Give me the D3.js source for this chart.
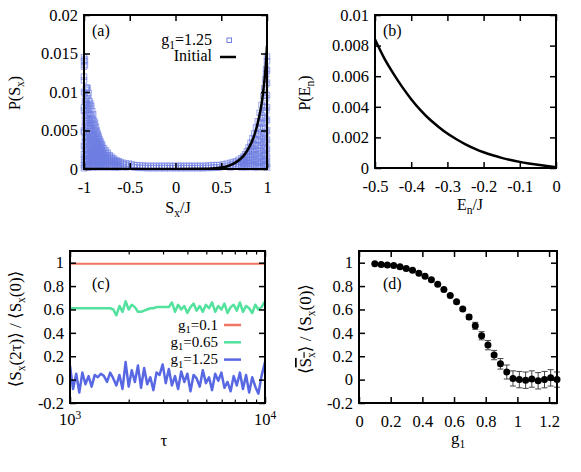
<!DOCTYPE html>
<html><head><meta charset="utf-8">
<script src="https://cdn.jsdelivr.net/npm/d3@7"></script>
<style>
body{margin:0;background:#fff}
svg text{font-family:"Liberation Serif","Times New Roman","DejaVu Serif",serif;fill:#000}
</style>
</head><body>
<svg id="chart" width="581" height="472"></svg>
<script>
// ---------------- DATA ----------------
// (a) open squares: [S_x/J, [P values in units of 1e-3]]
const aSquares = [
 [-1.00,[14.5,14.0,13.3,12.0,11.5,10.0,8.0,7.6,5.0,4.8,3.0,1.9,1.2,0.5,0.1]],
 [-0.99,[14.2,13.5,9.8,8.8,7.0,6.2,5.4,4.1,3.5,2.6,1.6,0.9,0.3]],
 [-0.98,[10.4,9.0,8.6,7.5,6.0,4.7,3.9,2.8,2.0,1.3,0.6]],
 [-0.97,[10.6,10.2,9.2,8.3,6.6,5.7,4.4,3.3,2.4,1.7,1.0,0.4]],
 [-0.96,[10.5,9.5,8.4,7.8,7.0,5.2,4.2,3.6,2.5,1.8,1.1,0.5]],
 [-0.95,[9.9,9.0,8.1,7.2,6.3,5.6,4.6,3.7,2.9,2.1,1.4,0.7,0.2]],
 [-0.94,[8.8,8.3,7.3,6.5,5.9,4.9,4.0,3.3,2.6,1.9,1.2,0.6]],
 [-0.93,[8.5,7.9,7.0,6.1,5.4,4.5,3.8,3.0,2.3,1.6,1.0,0.4]],
 [-0.92,[8.2,7.0,6.4,5.6,4.9,4.2,3.5,2.8,2.1,1.5,0.9,0.3]],
 [-0.91,[7.5,6.6,6.0,5.2,4.6,3.9,3.2,2.5,1.9,1.3,0.7]],
 [-0.90,[7.1,6.4,5.7,5.0,4.3,3.6,3.0,2.4,1.8,1.2,0.6,0.2]],
 [-0.89,[6.2,5.8,5.1,4.5,3.9,3.3,2.7,2.1,1.6,1.0,0.5]],
 [-0.88,[6.0,5.3,4.8,4.1,3.6,3.0,2.5,1.9,1.4,0.9,0.4]],
 [-0.87,[5.5,4.9,4.3,3.8,3.2,2.7,2.2,1.7,1.2,0.8,0.3]],
 [-0.86,[5.0,4.5,4.0,3.4,2.9,2.4,1.9,1.5,1.0,0.6]],
 [-0.85,[4.6,4.1,3.6,3.1,2.7,2.2,1.8,1.3,0.9,0.5,0.2]],
 [-0.84,[4.3,3.8,3.3,2.9,2.5,2.0,1.6,1.2,0.8,0.4]],
 [-0.83,[3.9,3.5,3.0,2.6,2.2,1.8,1.4,1.0,0.6,0.3]],
 [-0.82,[3.6,3.2,2.8,2.4,2.0,1.7,1.3,0.9,0.5]],
 [-0.81,[3.3,2.9,2.5,2.2,1.8,1.5,1.1,0.8,0.4]],
 [-0.80,[3.1,2.7,2.3,2.0,1.7,1.3,1.0,0.7,0.3]],
 [-0.78,[2.7,2.4,2.0,1.7,1.4,1.1,0.8,0.5,0.2]],
 [-0.76,[2.4,2.1,1.8,1.5,1.2,0.9,0.6,0.3]],
 [-0.74,[2.1,1.8,1.5,1.3,1.0,0.7,0.4]],
 [-0.72,[1.8,1.6,1.3,1.1,0.8,0.5,0.2]],
 [-0.70,[1.6,1.4,1.1,0.9,0.6,0.3]],
 [-0.68,[1.4,1.2,1.0,0.7,0.4]],
 [-0.66,[1.2,1.0,0.8,0.5,0.2]],
 [-0.64,[1.1,0.9,0.6,0.3]],
 [-0.62,[1.0,0.8,0.5,0.2]],
 [-0.60,[0.9,0.7,0.4]],
 [-0.57,[0.8,0.6,0.3]],
 [-0.54,[0.7,0.5,0.2]],
 [-0.51,[0.7,0.4]],
 [-0.48,[0.6,0.3]],
 [-0.45,[0.5,0.2]],[-0.42,[0.5,0.2]],[-0.39,[0.45,0.15]],[-0.36,[0.45,0.15]],
 [-0.33,[0.4,0.15]],[-0.30,[0.4,0.1]],[-0.27,[0.4,0.15]],[-0.24,[0.4,0.1]],
 [-0.21,[0.4,0.15]],[-0.18,[0.4,0.1]],[-0.15,[0.4,0.15]],[-0.12,[0.4,0.1]],
 [-0.09,[0.4,0.15]],[-0.06,[0.4,0.1]],[-0.03,[0.4,0.15]],[0.00,[0.4,0.1]],
 [0.03,[0.4,0.15]],[0.06,[0.4,0.1]],[0.09,[0.4,0.15]],[0.12,[0.4,0.1]],
 [0.15,[0.4,0.15]],[0.18,[0.4,0.1]],[0.21,[0.4,0.15]],[0.24,[0.4,0.1]],
 [0.27,[0.4,0.15]],[0.30,[0.4,0.1]],[0.33,[0.4,0.15]],[0.36,[0.45,0.15]],
 [0.39,[0.45,0.15]],[0.42,[0.5,0.2]],[0.45,[0.5,0.2]],
 [0.48,[0.5,0.2]],
 [0.52,[0.6,0.3]],
 [0.56,[0.7,0.4]],
 [0.60,[0.8,0.5,0.2]],
 [0.63,[0.9,0.6,0.3]],
 [0.66,[1.0,0.7,0.4]],
 [0.69,[1.2,0.9,0.6,0.3]],
 [0.72,[1.4,1.1,0.8,0.5,0.2]],
 [0.74,[1.6,1.3,1.0,0.7,0.4]],
 [0.76,[1.9,1.6,1.2,0.9,0.6,0.3]],
 [0.78,[2.3,1.9,1.5,1.1,0.8,0.5,0.2]],
 [0.80,[2.8,2.4,1.9,1.5,1.1,0.7,0.4]],
 [0.82,[3.4,2.9,2.4,1.9,1.5,1.1,0.7,0.3]],
 [0.84,[4.0,3.4,2.9,2.3,1.8,1.3,0.9,0.5]],
 [0.86,[4.6,3.9,3.2,2.6,2.1,1.6,1.1,0.6,0.2]],
 [0.88,[5.4,4.6,3.8,3.1,2.5,1.9,1.3,0.8,0.4]],
 [0.90,[6.2,5.3,4.5,3.7,3.0,2.3,1.7,1.1,0.6,0.2]],
 [0.92,[7.3,6.1,5.2,4.3,3.5,2.7,2.0,1.4,0.8,0.3]],
 [0.94,[8.3,7.0,5.9,4.8,3.9,3.1,2.3,1.6,0.9,0.4]],
 [0.96,[9.5,8.0,6.6,5.4,4.4,3.4,2.5,1.7,1.0,0.5]],
 [0.97,[10.5,8.8,7.3,6.0,4.6,3.6,2.7,1.8,1.1,0.4]],
 [0.98,[11.6,10.0,8.2,6.7,5.2,4.0,2.9,2.0,1.2,0.6]],
 [0.99,[13.0,12.3,11.0,9.2,7.6,6.2,4.8,3.5,2.4,1.4,0.6]],
 [1.00,[14.6,14.0,12.8,11.2,9.6,8.0,6.4,5.0,3.8,2.6,1.6,0.7,0.2]]
];
// (a) initial distribution curve
const aInitX = [-1,-0.5,0,0.3,0.4,0.5,0.55,0.6,0.65,0.7,0.75,0.8,0.85,0.88,0.9,0.92,0.94,0.96,0.98,0.99,1.0];
const aInitY = [0,0,0.00001,0.00003,0.00008,0.0002,0.0003,0.0005,0.0008,0.0012,0.0018,0.0027,0.0040,0.0051,0.0060,0.0071,0.0084,0.0102,0.0125,0.0140,0.0160];
// (b) P(E_n)
const bX = [-0.5,-0.475,-0.45,-0.425,-0.4,-0.375,-0.35,-0.325,-0.3,-0.275,-0.25,-0.225,-0.2,-0.175,-0.15,-0.125,-0.1,-0.075,-0.05,-0.025,0];
const bY = [0.0084,0.0072,0.0062,0.0053,0.0045,0.0038,0.0032,0.0027,0.00225,0.00188,0.00155,0.00127,0.00103,0.00083,0.00066,0.00052,0.0004,0.0003,0.00021,0.00013,0.00006];
// (c) time series
const cTau = [1000,1037,1076,1116,1157,1200,1245,1291,1339,1389,1440,1494,1549,1607,1667,1729,1793,1859,1928,2000,2074,2151,2231,2314,2400,2489,2582,2677,2777,2880,2987,3098,3213,3332,3456,3584,3718,3856,3999,4147,4302,4461,4627,4799,4977,5162,5354,5553,5759,5973,6194,6424,6663,6911,7167,7434,7710,7996,8293,8601,8920,9252,9595,10000];
const cRed = [0.99,0.992,0.99,0.991,0.99,0.992,0.99,0.991,0.99,0.992,0.99,0.991,0.99,0.992,0.99,0.991,0.99,0.992,0.99,0.991,0.99,0.992,0.99,0.991,0.99,0.992,0.99,0.991,0.99,0.992,0.99,0.991,0.99,0.992,0.99,0.991,0.99,0.992,0.99,0.991,0.99,0.992,0.99,0.991,0.99,0.992,0.99,0.991,0.99,0.992,0.99,0.991,0.99,0.992,0.99,0.991,0.99,0.992,0.99,0.991,0.99,0.992,0.99,0.991];
const cGreen = [0.61,0.61,0.61,0.61,0.61,0.61,0.61,0.61,0.61,0.61,0.61,0.61,0.61,0.61,
 0.60,0.55,0.63,0.58,0.67,0.60,0.64,0.62,0.58,
 0.58,0.59,0.60,0.61,0.61,0.62,0.62,0.62,0.62,0.62,
 0.66,0.58,0.64,0.60,0.63,0.57,0.62,0.65,0.59,0.63,
 0.58,0.64,0.61,0.66,0.58,0.63,0.60,0.65,0.57,0.62,
 0.64,0.59,0.66,0.58,0.63,0.61,0.57,0.64,0.60,0.62,0.67];
const cBlue = [0.12,-0.08,0.05,-0.11,0.06,-0.04,0.03,-0.06,0.04,0.02,0.05,0.03,-0.02,0.06,0.01,-0.05,0.04,-0.08,0.15,-0.06,0.08,-0.02,0.12,-0.07,0.10,-0.04,0.02,-0.09,0.06,0.04,0.13,-0.03,0.09,-0.05,0.03,-0.08,0.07,-0.02,0.05,-0.10,0.04,0.01,-0.06,0.08,-0.03,0.02,-0.09,0.05,-0.01,0.06,-0.07,-0.02,-0.10,0.03,-0.05,0.06,-0.08,0.04,-0.11,0.02,-0.06,-0.12,0.03,0.15];
const cSeries = ["0.1","0.65","1.25"];
// (d) time-averaged magnetisation
const dG = [0.100,0.140,0.179,0.219,0.259,0.298,0.338,0.378,0.417,0.457,0.497,0.536,0.576,0.616,0.655,0.695,0.734,0.774,0.814,0.853,0.893,0.933,0.972,1.012,1.052,1.091,1.131,1.171,1.210,1.250];
const dY = [0.99,0.985,0.98,0.975,0.965,0.95,0.935,0.91,0.885,0.855,0.815,0.77,0.72,0.665,0.605,0.535,0.46,0.375,0.295,0.21,0.135,0.065,0.01,0.0,-0.005,0.005,-0.01,0.0,0.015,0.0];
const dErr = [0.005,0.005,0.005,0.005,0.005,0.005,0.005,0.005,0.005,0.005,0.005,0.005,0.008,0.01,0.012,0.02,0.03,0.035,0.04,0.04,0.045,0.06,0.065,0.07,0.07,0.07,0.07,0.07,0.07,0.065];
// tick values / labels
const aXTicks = [-1,-0.5,0,0.5,1], aXLabels = ["-1","-0.5","0","0.5","1"];
const aYTicks = [0,0.005,0.01,0.015,0.02], aYLabels = ["0","0.005","0.01","0.015","0.02"];
const bXTicks = [-0.5,-0.4,-0.3,-0.2,-0.1,0], bXLabels = ["-0.5","-0.4","-0.3","-0.2","-0.1","0"];
const bYTicks = [0,0.002,0.004,0.006,0.008,0.01], bYLabels = ["0","0.002","0.004","0.006","0.008","0.01"];
const cXMajor = [1000,10000], cXMinor = [2000,3000,4000,5000,6000,7000,8000,9000], cXExp = ["3","4"];
const cdYTicks = [-0.2,0,0.2,0.4,0.6,0.8,1], cdYLabels = ["-0.2","0","0.2","0.4","0.6","0.8","1"];
const dXTicks = [0,0.2,0.4,0.6,0.8,1,1.2], dXLabels = ["0","0.2","0.4","0.6","0.8","1","1.2"];

// ---------------- DRAW ----------------
const svg = d3.select("#chart");
const FONT = "Liberation Serif, Times New Roman, serif";
const FS = 16, TFS = 16.5, SFS = 11.5;
const colRed = "#ef7462", colGreen = "#52e29e", colBlue = "#5868e2", colSq = "#6e7ee2";

function axes(g, x, y, box, xt, xl, yt, yl){
  const {l,r,t,b} = box;
  const bottom = g.append("g").attr("transform",`translate(0,${b})`)
    .call(d3.axisBottom(x).tickValues(xt).tickFormat((d,i)=>xl?xl[i]:"").tickSize(-6).tickSizeOuter(0).tickPadding(12));
  const top = g.append("g").attr("transform",`translate(0,${t})`)
    .call(d3.axisTop(x).tickValues(xt).tickFormat("").tickSize(-6).tickSizeOuter(0));
  const left = g.append("g").attr("transform",`translate(${l},0)`)
    .call(d3.axisLeft(y).tickValues(yt).tickFormat((d,i)=>yl[i]).tickSize(-6).tickSizeOuter(0).tickPadding(6));
  const right = g.append("g").attr("transform",`translate(${r},0)`)
    .call(d3.axisRight(y).tickValues(yt).tickFormat("").tickSize(-6).tickSizeOuter(0));
  [bottom,top,left,right].forEach(a=>{
    a.attr("font-family",FONT).attr("font-size",TFS);
    a.selectAll("text").attr("font-family",FONT).attr("fill","#000");
    a.select(".domain").remove();
    a.selectAll(".tick line").attr("stroke","#000").attr("stroke-width",1.5);
  });
  g.append("rect").attr("x",l).attr("y",t).attr("width",r-l).attr("height",b-t)
    .attr("fill","none").attr("stroke","#000").attr("stroke-width",2);
}
function txt(g, x, y, anchor, size){
  return g.append("text").attr("x",x).attr("y",y).attr("font-family",FONT)
    .attr("font-size",size||FS).attr("text-anchor",anchor||"start");
}
function sub(text, base, subTxt, rest, sfs){
  text.append("tspan").text(base);
  text.append("tspan").attr("font-size",sfs||SFS).attr("dy",3.5).text(subTxt);
  if(rest!==undefined) text.append("tspan").attr("dy",-3.5).text(rest);
}

// ===== Panel (a) =====
{
  const box = {l:84,r:267,t:15,b:169};
  const x = d3.scaleLinear().domain([-1,1]).range([box.l,box.r]);
  const y = d3.scaleLinear().domain([0,0.02]).range([box.b,box.t]);
  const g = svg.append("g");
  g.append("clipPath").attr("id","clipA").append("rect")
    .attr("x",box.l).attr("y",box.t).attr("width",box.r-box.l).attr("height",box.b-box.t);
  const pts = aSquares.flatMap(([sx,ys])=>ys.map(v=>[sx,v*1e-3]));
  const s = 5.5;
  g.append("g").selectAll("rect").data(pts).join("rect")
    .attr("x",d=>x(d[0])-s/2).attr("y",d=>y(d[1])-s/2).attr("width",s).attr("height",s)
    .attr("fill","none").attr("stroke",colSq).attr("stroke-width",1).attr("stroke-opacity",0.65);
  const line = d3.line().x(d=>x(d[0])).y(d=>y(d[1])).curve(d3.curveMonotoneX);
  g.append("path").datum(aInitX.map((v,i)=>[v,aInitY[i]])).attr("d",line)
    .attr("fill","none").attr("stroke","#000").attr("stroke-width",2.5).attr("clip-path","url(#clipA)");
  axes(g,x,y,box,aXTicks,aXLabels,aYTicks,aYLabels);
  txt(g,92,36).text("(a)");
  // legend
  sub(txt(g,212,45,"end"),"g","1","=1.25");
  g.append("rect").attr("x",229-2).attr("y",40-2).attr("width",4.5).attr("height",4.5)
    .attr("fill","none").attr("stroke",colSq).attr("stroke-width",1);
  txt(g,212,61,"end").text("Initial");
  g.append("line").attr("x1",220).attr("x2",236).attr("y1",57).attr("y2",57).attr("stroke","#000").attr("stroke-width",2.5);
  // axis titles
  sub(txt(g,178,213,"middle"),"S","x","/J");
  const yt = g.append("text").attr("transform","translate(20,93) rotate(-90)").attr("font-family",FONT).attr("font-size",FS).attr("text-anchor","middle");
  sub(yt,"P(S","x",")");
}

// ===== Panel (b) =====
{
  const box = {l:375,r:556,t:15,b:168};
  const x = d3.scaleLinear().domain([-0.5,0]).range([box.l,box.r]);
  const y = d3.scaleLinear().domain([0,0.01]).range([box.b,box.t]);
  const g = svg.append("g");
  const line = d3.line().x(d=>x(d[0])).y(d=>y(d[1])).curve(d3.curveMonotoneX);
  g.append("path").datum(bX.map((v,i)=>[v,bY[i]])).attr("d",line)
    .attr("fill","none").attr("stroke","#000").attr("stroke-width",2.5);
  axes(g,x,y,box,bXTicks,bXLabels,bYTicks,bYLabels);
  txt(g,383,36).text("(b)");
  sub(txt(g,470,210,"middle"),"E","n","/J");
  const yt = g.append("text").attr("transform","translate(310,93) rotate(-90)").attr("font-family",FONT).attr("font-size",FS).attr("text-anchor","middle");
  sub(yt,"P(E","n",")");
}

// ===== Panel (c) =====
{
  const box = {l:70,r:265,t:251,b:403};
  const x = d3.scaleLog().domain([1000,10000]).range([box.l,box.r]);
  const y = d3.scaleLinear().domain([-0.2,1.1]).range([box.b,box.t]);
  const g = svg.append("g");
  g.append("clipPath").attr("id","clipC").append("rect")
    .attr("x",box.l).attr("y",box.t).attr("width",box.r-box.l).attr("height",box.b-box.t);
  const line = d3.line().x(d=>x(d[0])).y(d=>y(d[1]));
  const series = [[cRed,colRed,2],[cGreen,colGreen,2.5],[cBlue,colBlue,2.5]];
  series.forEach(([vals,col,w])=>{
    g.append("path").datum(cTau.map((t,i)=>[t,vals[i]])).attr("d",line)
      .attr("fill","none").attr("stroke",col).attr("stroke-width",w).attr("stroke-linejoin","round")
      .attr("clip-path","url(#clipC)");
  });
  axes(g,x,y,box,cXMajor,null,cdYTicks,cdYLabels);
  // minor ticks
  [[d3.axisBottom,box.b],[d3.axisTop,box.t]].forEach(([ax,pos])=>{
    g.append("g").attr("transform",`translate(0,${pos})`)
      .call(ax(x).tickValues(cXMinor).tickFormat("").tickSize(-3.5).tickSizeOuter(0))
      .call(a=>{a.select(".domain").remove(); a.selectAll("line").attr("stroke","#000").attr("stroke-width",1.2);});
  });
  cXMajor.forEach((v,i)=>{
    const t = txt(g,x(v),box.b+22,"middle",TFS);
    t.append("tspan").text("10");
    t.append("tspan").attr("font-size",SFS).attr("dy",-6).text(cXExp[i]);
  });
  txt(g,92,289).text("(c)");
  // legend
  const lc = [colRed,colGreen,colBlue];
  cSeries.forEach((s,i)=>{
    const yy = 329.5 + i*17.3;
    sub(txt(g,218,yy,"end",15),"g","1","="+s,10.5);
    g.append("line").attr("x1",224).attr("x2",241).attr("y1",yy-4.5).attr("y2",yy-4.5)
      .attr("stroke",lc[i]).attr("stroke-width",2.5);
  });
  txt(g,164,446,"middle",FS+1).text("τ");
  const yt = g.append("text").attr("transform","translate(21,329) rotate(-90)").attr("font-family",FONT).attr("font-size",FS+1).attr("text-anchor","middle");
  yt.append("tspan").text("⟨S");
  yt.append("tspan").attr("font-size",SFS).attr("dy",3.5).text("x");
  yt.append("tspan").attr("dy",-3.5).text("(2τ)⟩  /  ⟨S");
  yt.append("tspan").attr("font-size",SFS).attr("dy",3.5).text("x");
  yt.append("tspan").attr("dy",-3.5).text("(0)⟩");
}

// ===== Panel (d) =====
{
  const box = {l:359,r:557,t:251,b:403};
  const x = d3.scaleLinear().domain([0,1.25]).range([box.l,box.r]);
  const y = d3.scaleLinear().domain([-0.2,1.1]).range([box.b,box.t]);
  const g = svg.append("g");
  const pts = dG.map((v,i)=>({g:v,y:dY[i],e:dErr[i]}));
  const eb = g.append("g").attr("stroke","#444").attr("stroke-width",1);
  pts.forEach(p=>{
    const cx = x(p.g), y0 = y(p.y-p.e), y1 = y(p.y+p.e);
    eb.append("line").attr("x1",cx).attr("x2",cx).attr("y1",y0).attr("y2",y1);
    eb.append("line").attr("x1",cx-3).attr("x2",cx+3).attr("y1",y0).attr("y2",y0);
    eb.append("line").attr("x1",cx-3).attr("x2",cx+3).attr("y1",y1).attr("y2",y1);
  });
  g.append("g").selectAll("circle").data(pts).join("circle")
    .attr("cx",d=>x(d.g)).attr("cy",d=>y(d.y)).attr("r",3.5).attr("fill","#000");
  axes(g,x,y,box,dXTicks,dXLabels,cdYTicks,cdYLabels);
  txt(g,383,289).text("(d)");
  sub(txt(g,458,444,"middle",FS+1),"g","1");
  const yt = g.append("text").attr("transform","translate(311,329) rotate(-90)").attr("font-family",FONT).attr("font-size",FS+1).attr("text-anchor","middle");
  yt.append("tspan").text("⟨");
  yt.append("tspan").style("text-decoration","overline").text("S");
  yt.append("tspan").attr("font-size",SFS).attr("dy",3.5).style("text-decoration","overline").text("x");
  yt.append("tspan").attr("dy",-3.5).text("⟩  /  ⟨S");
  yt.append("tspan").attr("font-size",SFS).attr("dy",3.5).text("x");
  yt.append("tspan").attr("dy",-3.5).text("(0)⟩");
}
</script>
</body></html>
